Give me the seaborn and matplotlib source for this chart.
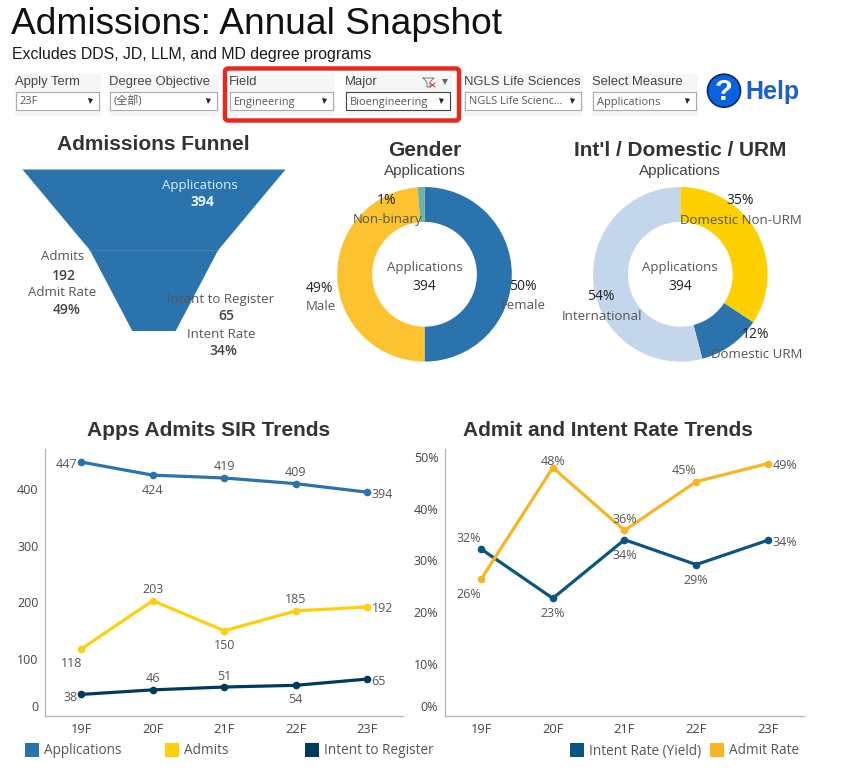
import matplotlib
matplotlib.use('Agg')
import matplotlib.pyplot as plt
from matplotlib.patches import Rectangle, FancyBboxPatch, Circle
from matplotlib.transforms import ScaledTranslation
import pandas as pd
import seaborn as sns

W, H = 862, 774

terms = ['19F', '20F', '21F', '22F', '23F']
applications = [447, 424, 419, 409, 394]
admits = [118, 203, 150, 185, 192]
intents = [38, 46, 51, 54, 65]
admit_rate = [26.4, 47.9, 35.8, 45.2, 48.7]
intent_rate = [32.2, 22.7, 34.0, 29.2, 33.9]

funnel_values = [394, 192, 65]
gender_labels = ['Female', 'Male', 'Non-binary']
gender_counts = [197, 192, 5]
origin_labels = ['Domestic Non-URM', 'Domestic URM', 'International']
origin_counts = [135, 46, 213]

filter_names = ['Apply Term', 'Degree Objective', 'Field', 'Major', 'NGLS Life Sciences', 'Select Measure']
filter_values = ['23F', '(全部)', 'Engineering', 'Bioengineering', 'NGLS Life Scienc...', 'Applications']

BLUE = '#2a73ad'
YELLOW = '#ffcf0a'
NAVY = '#003b5c'
RATE_BLUE = '#0b5585'
RATE_GOLD = '#f8b521'
TEXT = '#555555'
DARK = '#333333'
TAB_FONT = ['Open Sans', 'Noto Sans CJK SC', 'DejaVu Sans']

sns.set_theme(style='white')
plt.rcParams['font.family'] = ['Liberation Sans', 'Noto Sans CJK SC', 'DejaVu Sans']

fig = plt.figure(figsize=(W / 100, H / 100), dpi=100, facecolor='white')


def px_axes(left, top, right, bottom):
    return fig.add_axes([left / W, 1 - bottom / H, (right - left) / W, (bottom - top) / H])


def trend_chart(box, series, names, colors, offsets, ymax, yticks, fmt):
    ax = px_axes(*box)
    ax.set_facecolor('none')
    df = pd.DataFrame({'term': terms * len(series),
                       'value': [v for s in series for v in s],
                       'series': [n for n in names for _ in terms]})
    sns.lineplot(data=df, x='term', y='value', hue='series', palette=dict(zip(names, colors)),
                 marker='o', markersize=5.5, markeredgewidth=0, linewidth=2.3, legend=False, ax=ax)
    ax.set_xlim(-0.5, 4.5)
    ax.set_ylim(0, ymax)
    ax.set_xlabel('')
    ax.set_ylabel('')
    ax.set_yticks(yticks)
    ax.set_yticklabels([fmt(t) for t in yticks], family=TAB_FONT, fontsize=9, color='#444444')
    ax.set_xticks(range(len(terms)))
    ax.set_xticklabels(terms, family=TAB_FONT, fontsize=9.3, color='#444444')
    ax.tick_params(axis='both', length=0, pad=5)
    # tableau pushes the bottom label up so it stays inside the pane
    shift = ScaledTranslation(0, 10 / 100, fig.dpi_scale_trans)
    zero = ax.get_yticklabels()[0]
    zero.set_transform(zero.get_transform() + shift)
    sns.despine(ax=ax)
    for side in ['left', 'bottom']:
        ax.spines[side].set_color('#b3b3b3')
        ax.spines[side].set_linewidth(0.9)
    for s, off in zip(series, offsets):
        for i, v in enumerate(s):
            ax.annotate(fmt(round(v)), (i, v), xytext=(off[i][0], off[i][1] - 1), textcoords='offset pixels',
                        ha='center', va='center', family=TAB_FONT, fontsize=9, color=TEXT)
    return ax


count_offsets = [
    [(-15, -1), (0, -14), (0, 12.5), (0, 12), (15, -1)],
    [(-10, -14), (0, 12.5), (0, -14), (0, 12.5), (15, -1)],
    [(-11, -2), (0, 12), (0, 12), (0, -13.5), (11, -1)],
]
rate_offsets = [
    [(-12, 12), (0, -14), (0, -15), (0, -14.5), (17, -1)],
    [(-12, -14), (0, 7), (0, 12), (-12, 12), (17, -1)],
]

trend_chart((45.5, 449, 403, 716), [applications, admits, intents],
            ['Applications', 'Admits', 'Intent to Register'], [BLUE, YELLOW, NAVY],
            count_offsets, 470, [0, 100, 200, 300, 400], lambda v: str(v))
trend_chart((445.3, 449, 803.7, 716), [intent_rate, admit_rate],
            ['Intent Rate (Yield)', 'Admit Rate'], [RATE_BLUE, RATE_GOLD],
            rate_offsets, 51.5, [0, 10, 20, 30, 40, 50], lambda v: f'{v}%')

# funnel, width follows the counts
fax = px_axes(22, 169, 285, 330.5)
stages = [0, 1, 2]
half = [v / 2 for v in funnel_values]
fax.fill_betweenx(stages, [-h for h in half], half, color=BLUE, linewidth=0)
fax.hlines(1, -half[1], half[1], color='#3d82b8', linewidth=0.8)
fax.set_xlim(-funnel_values[0] / 2, funnel_values[0] / 2)
fax.set_ylim(2, 0)
fax.axis('off')


def donut(cx, counts, colors):
    r = 87.3
    cy = 274.3
    ax = px_axes(cx - r, cy - r, cx + r, cy + r)
    ax.pie(counts, colors=colors, startangle=90, counterclock=False, radius=1,
           wedgeprops={'width': 0.4, 'linewidth': 0})
    ax.set_xlim(-1, 1)
    ax.set_ylim(-1, 1)


donut(424.5, gender_counts, [BLUE, '#fdc22f', '#6fb2a8'])
donut(680.3, origin_counts, ['#ffd000', BLUE, '#c3d6ec'])

# overlay in pixel coordinates for header, filters and labels
ov = fig.add_axes([0, 0, 1, 1], facecolor='none')
ov.set_xlim(0, W)
ov.set_ylim(H, 0)
ov.axis('off')


def label(x, y, s, size=9.5, color=TEXT, ha='center', font=None, weight='normal'):
    ov.text(x, y + 1, s, fontsize=size, color=color, ha=ha, va='center',
            family=font or TAB_FONT, fontweight=weight)


ov.text(11, 25, 'Admissions: Annual Snapshot', fontsize=26.7, color='#111111', va='center')
ov.text(12, 54, 'Excludes DDS, JD, LLM, and MD degree programs', fontsize=11.45, color='#1a1a1a', va='center')

filter_boxes = [(15, 101), (109, 219), (229, 335), (345, 452), (464, 583), (592, 698)]
for name, value, (x0, x1) in zip(filter_names, filter_values, filter_boxes):
    ov.add_patch(Rectangle((x0, 74), x1 - x0, 42, color='#f6f6f6', linewidth=0))
    edge = '#444444' if name == 'Major' else '#aaaaaa'
    ov.add_patch(Rectangle((x0 + 1.5, 91.5), x1 - x0 - 3, 18.5, facecolor='white', edgecolor=edge, linewidth=0.8))
    ov.text(x0, 82, name, fontsize=9.4, color='#444444', va='center')
    label(x0 + 5, 101, value, size=7.9, ha='left')
    ov.plot([x1 - 11], [100.8], marker='v', markersize=3.6, color='#222222', markeredgewidth=0)

ov.add_patch(FancyBboxPatch((225, 68.5), 234, 52, boxstyle='round,pad=0,rounding_size=3',
                            facecolor='none', edgecolor='#e8281e', linewidth=3.2))
# filter and menu glyphs on the Major card
ov.plot([423, 434, 430, 430, 427, 427, 423], [78, 78, 82, 87, 87, 82, 78], color='#777777', linewidth=0.7)
ov.plot([430, 435], [83, 87], color='#d83a2a', linewidth=0.8)
ov.plot([435, 430], [83, 87], color='#d83a2a', linewidth=0.8)
ov.plot([445.5], [82], marker='v', markersize=5, color='#666666', markeredgewidth=0)

ov.add_patch(Circle((724, 90.7), 16.5, facecolor='#0a62e0', edgecolor='#0a2a66', linewidth=1.2))
ov.text(724, 92, '?', fontsize=21, color='white', ha='center', va='center', fontweight='bold')
ov.text(745.5, 92.5, 'Help', fontsize=18, color='#1a5fd0', va='center', fontweight='bold')

for x, y, title in [(153.5, 145, 'Admissions Funnel'), (424.5, 150.5, 'Gender'),
                    (680.3, 150.5, "Int'l / Domestic / URM"), (208.5, 430.5, 'Apps Admits SIR Trends'),
                    (608, 430.5, 'Admit and Intent Rate Trends')]:
    ov.text(x, y, title, fontsize=15, color=DARK, ha='center', va='center', fontweight='bold')
label(424.5, 170, 'Applications', size=11, color='#444444', font='Liberation Sans')
label(680.3, 170, 'Applications', size=11, color='#444444', font='Liberation Sans')

# funnel labels
label(200, 184, 'Applications', color='#dcefff')
label(202, 201.5, str(funnel_values[0]), size=10, color='#e8f4ff', weight='bold')
label(63, 255, 'Admits')
label(64, 275, str(funnel_values[1]), size=10, color='#444444', weight='semibold')
label(62.5, 291, 'Admit Rate')
label(67, 309, '49%', size=10, color='#444444', weight='semibold')
label(221, 299, 'Intent to Register')
label(226, 315, str(funnel_values[2]), size=10, color='#444444', weight='semibold')
label(221, 333, 'Intent Rate')
label(223, 350, '34%', size=10, color='#444444', weight='semibold')

# donut labels
for cx in [424.5, 680.3]:
    label(cx, 267, 'Applications')
    label(cx, 286, '394', size=10, color='#222222')
for x, y, pct, name in [(387, 200, '1%', gender_labels[2]), (522.7, 285.7, '50%', gender_labels[0]),
                        (320, 287, '49%', gender_labels[1]), (740, 200, '35%', origin_labels[0]),
                        (601, 296, '54%', origin_labels[2]), (755.7, 334, '12%', origin_labels[1])]:
    label(x, y, pct, size=10, color='#222222')
    label(x + 1, y + 19, name)

# legends
legend_items = [(25, 'Applications', BLUE), (165, 'Admits', YELLOW), (305, 'Intent to Register', NAVY),
                (570, 'Intent Rate (Yield)', RATE_BLUE), (710, 'Admit Rate', RATE_GOLD)]
for x, name, color in legend_items:
    ov.add_patch(Rectangle((x, 742.5), 14, 14, color=color, linewidth=0))
    label(x + 19.5, 750, name, size=9.8, ha='left')

fig.savefig('out.png', dpi=100)
